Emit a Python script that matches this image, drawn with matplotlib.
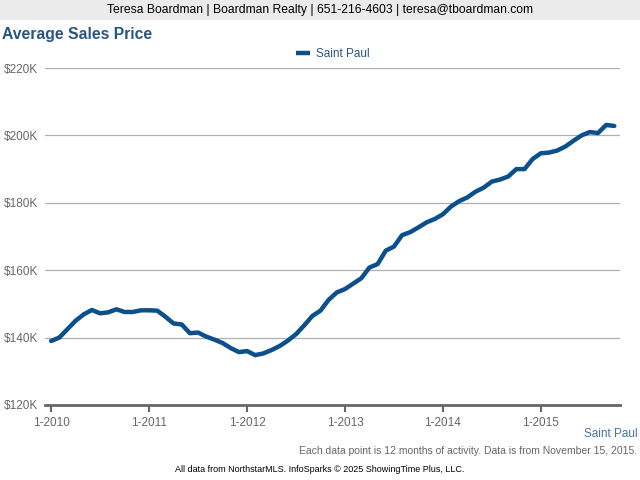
import matplotlib.pyplot as plt
from matplotlib.ticker import FuncFormatter

# Saint Paul average sales price (thousands $), monthly Jan 2010 - Oct 2015
price_2010 = [139.0, 140.0, 142.5, 145.0, 146.9, 148.2, 147.2, 147.5, 148.4, 147.6, 147.6, 148.1]
price_2011 = [148.1, 148.0, 146.2, 144.2, 143.9, 141.3, 141.5, 140.3, 139.4, 138.4, 136.9, 135.7]
price_2012 = [136.0, 134.8, 135.3, 136.3, 137.5, 139.1, 141.0, 143.6, 146.4, 148.0, 151.2, 153.4]
price_2013 = [154.4, 156.0, 157.6, 160.8, 161.8, 165.8, 167.0, 170.4, 171.3, 172.7, 174.2, 175.2]
price_2014 = [176.6, 178.9, 180.5, 181.6, 183.3, 184.5, 186.3, 186.9, 187.8, 190.0, 190.0, 193.0]
price_2015 = [194.7, 194.9, 195.5, 196.7, 198.4, 200.0, 201.0, 200.7, 203.1, 202.8]
prices = price_2010 + price_2011 + price_2012 + price_2013 + price_2014 + price_2015
months = list(range(len(prices)))

tick_labels = ['1-2010', '1-2011', '1-2012', '1-2013', '1-2014', '1-2015']
y_ticks = [120, 140, 160, 180, 200, 220]

plt.rcParams['font.family'] = ['Liberation Sans', 'DejaVu Sans']
blue = '#0b4f8c'
gray = '#666666'

fig = plt.figure(figsize=(6.4, 4.8), dpi=100)
fig.patch.set_facecolor('white')

# header band
fig.patches.append(plt.Rectangle((0, 1 - 20 / 480), 1, 20 / 480, transform=fig.transFigure,
                                 facecolor='#ebebeb', edgecolor='none'))
fig.text(0.5, 1 - 10 / 480, 'Teresa Boardman | Boardman Realty | 651-216-4603 | teresa@tboardman.com',
         ha='center', va='center', fontsize=8.7, color='black')
fig.text(2 / 640, 1 - 35 / 480, 'Average Sales Price', ha='left', va='center',
         fontsize=11.3, fontweight='bold', color='#2a5582')

ax = fig.add_axes([45 / 640, 75 / 480, 575 / 640, 337 / 480])
ax.plot(months, prices, color=blue, lw=3.2, solid_capstyle='round', solid_joinstyle='round',
        label='Saint Paul')
ax.set_xlim(-0.75, 69.7)
ax.set_ylim(120, 220)
ax.set_yticks(y_ticks)
ax.yaxis.set_major_formatter(FuncFormatter(lambda v, p: '${:d}K'.format(int(v))))
ax.set_xticks([12 * i for i in range(len(tick_labels))])
ax.set_xticklabels(tick_labels)
ax.grid(axis='y', color='#b0b0b0', lw=0.9)
ax.set_axisbelow(True)
for s in ['top', 'right', 'left']:
    ax.spines[s].set_visible(False)
ax.spines['bottom'].set_color('#666666')
ax.spines['bottom'].set_linewidth(2)
ax.tick_params(axis='y', length=0, pad=5, labelsize=8.5, labelcolor=gray)
ax.tick_params(axis='x', length=5, width=1.5, color='#666666', pad=4, labelsize=8.5, labelcolor=gray)

leg = ax.legend(loc='lower center', bbox_to_anchor=(0.5, 1.0), frameon=False, fontsize=8.5,
                handlelength=1.2, handletextpad=0.5, labelcolor='#2a5582', borderaxespad=0.3)
for h in leg.get_lines():
    h.set_solid_capstyle('butt')

fig.text(638 / 640, 1 - 434 / 480, 'Saint Paul', ha='right', va='center', fontsize=8.5, color='#4a72a8')
fig.text(637 / 640, 1 - 451 / 480,
         'Each data point is 12 months of activity. Data is from November 15, 2015.',
         ha='right', va='center', fontsize=7.5, color=gray)
fig.text(0.5, 1 - 469 / 480,
         'All data from NorthstarMLS. InfoSparks \u00a9 2025 ShowingTime Plus, LLC.',
         ha='center', va='center', fontsize=6.5, color='black')

fig.savefig('out.png', dpi=100)
